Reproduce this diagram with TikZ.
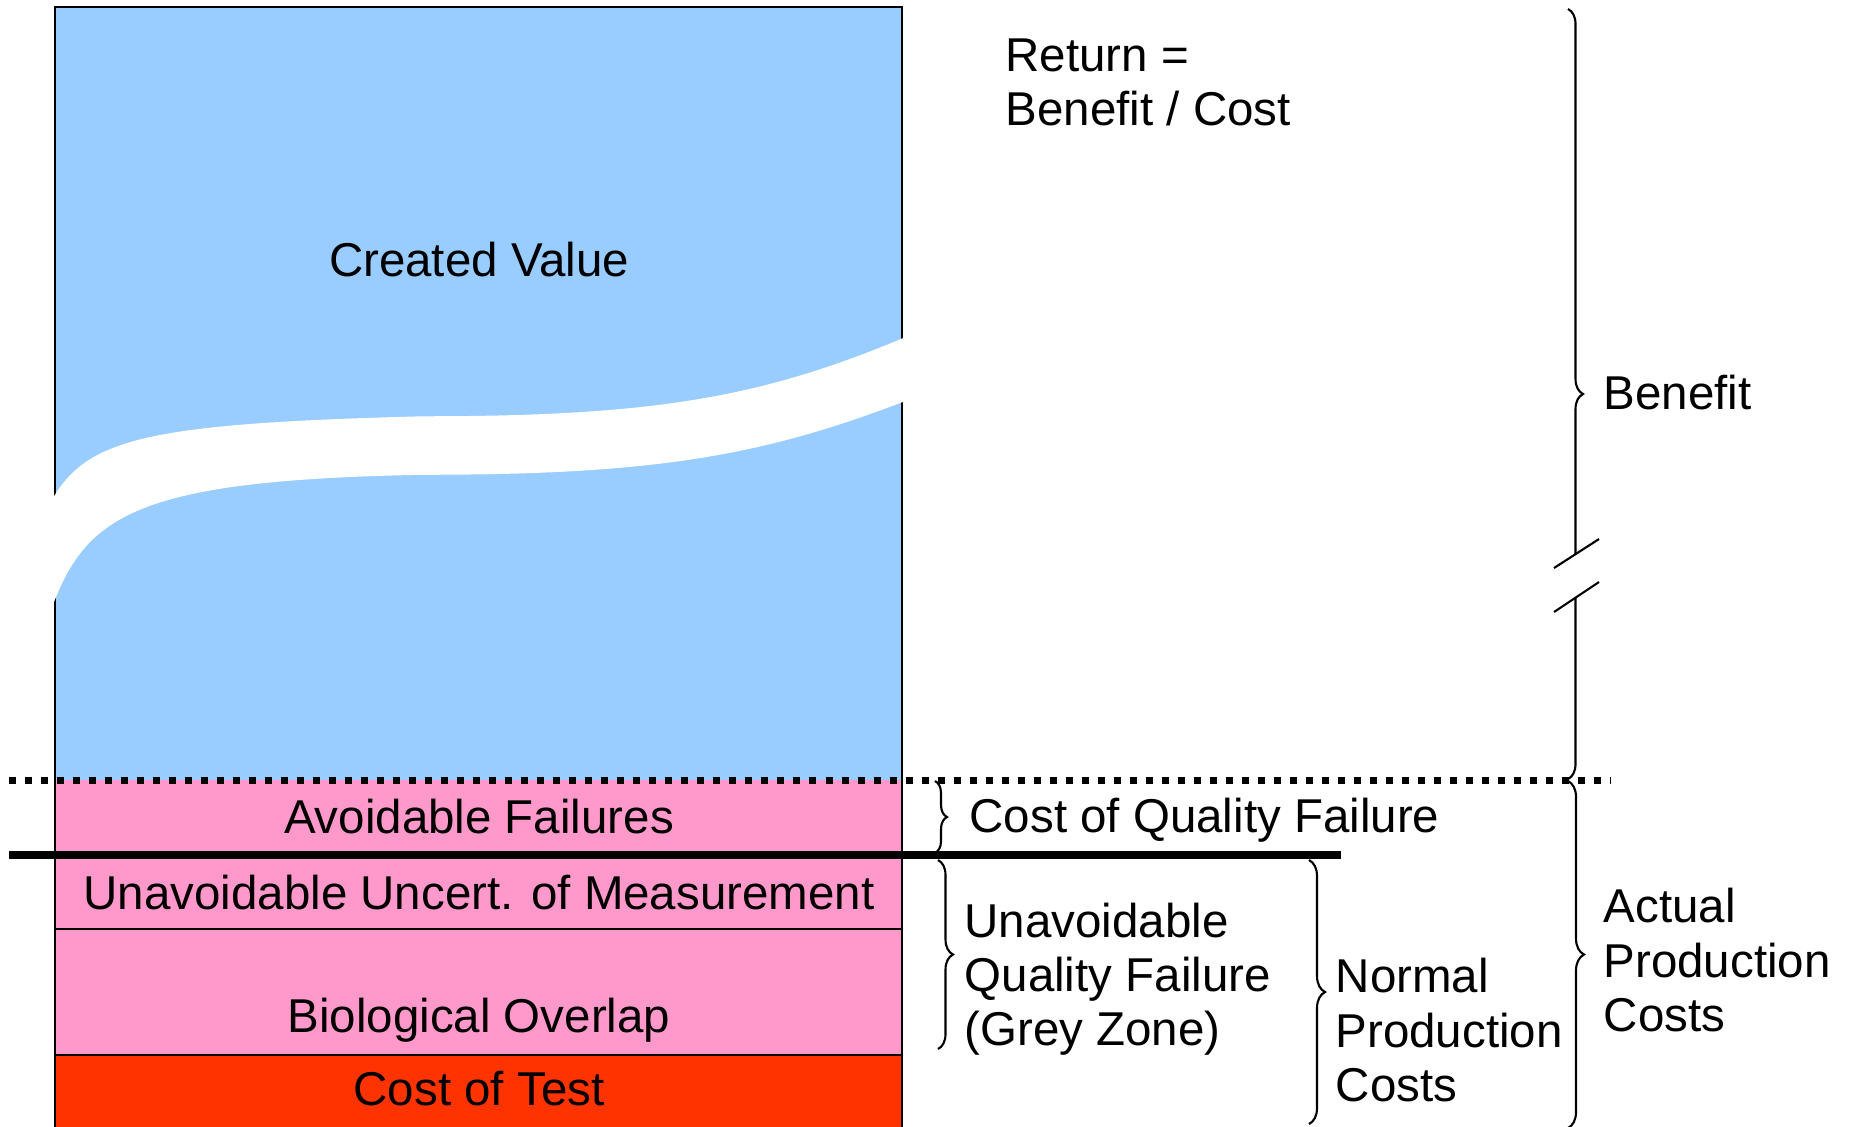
\documentclass[tikz,border=0pt]{standalone}
\usepackage{fontspec}
\setmainfont{Liberation Sans}
\usetikzlibrary{decorations.pathreplacing}
\definecolor{valueblue}{HTML}{99CCFF}
\definecolor{failpink}{HTML}{FF99CC}
\definecolor{testred}{HTML}{FF3300}

\begin{document}
\begin{tikzpicture}[x=0.01cm, y=-0.01cm,
		lbl/.style={inner sep=0pt, font=\fontsize{13.5}{15.4}\selectfont},
		side/.style={lbl, anchor=west, align=left},
		brc/.style={decorate, decoration={brace, amplitude=#1}, line width=0.6pt},
		brc/.default=0.15cm]
		\useasboundingbox (0,0) rectangle (1849,1126);
		\clip (0,0) rectangle (1849,1126);
		\fill[valueblue] (55,7) rectangle (902,780);
		\fill[failpink] (55,780) rectangle (902,1055);
		\fill[testred] (55,1055) rectangle (902,1130);
		\draw[line width=0.6pt] (55,1130) -- (55,7) -- (902,7) -- (902,1130);
		\draw[line width=0.6pt] (55,929) -- (902,929);
		\draw[line width=0.8pt] (55,1055) -- (902,1055);
		% white strip through the value column
		\filldraw[white, line width=1pt] (55,498) .. controls (90,440) and (150,425) .. (424,418)
			.. controls (650,418) and (760,400) .. (903,340) -- (903,400)
			.. controls (760,455) and (650,473) .. (424,473)
			.. controls (150,478) and (90,510) .. (55,595) -- cycle;
		\draw[line width=0.07cm, dash pattern=on 0.07cm off 0.09cm] (9,780) -- (1611,780);
		\draw[line width=0.073cm] (9,855) -- (1341,855);
		\node[lbl] (Value) at (479,260) {Created Value};
		\node[lbl] (Avoid) at (479,817) {Avoidable Failures};
		\node[lbl] (Uncert) at (479,893) {Unavoidable Uncert. of Measurement};
		\node[lbl] (BioOver) at (479,1020) {Biological Overlap};
		\node[lbl] (Test) at (479,1089) {Cost of Test};
		\node[side] (Return) at (1005,82) {Return =\\Benefit / Cost};
		\node[side] (Benefit) at (1603,393) {Benefit};
		\node[side] (QualFail) at (969,820) {Cost of Quality Failure};
		\node[side] (GreyZone) at (964,979) {Unavoidable\\Quality Failure\\(Grey Zone)};
		\node[side] (Normal) at (1335,1030) {Normal\\Production\\Costs};
		\node[side] (Actual) at (1603,960) {Actual\\Production\\Costs};
		\coordinate (BenTop) at (1568,9);
		\coordinate (BenBot) at (1568,779);
		\coordinate (ActTop) at (1568,781);
		\coordinate (ActBot) at (1568,1128);
		\coordinate (CqfTop) at (935,781);
		\coordinate (CqfBot) at (935,853);
		\coordinate (GreyTop) at (938,860);
		\coordinate (GreyBot) at (938,1049);
		\coordinate (NormTop) at (1309,860);
		\coordinate (NormBot) at (1309,1124);
		\draw[brc] (BenTop) -- (BenBot);
		\draw[brc=0.16cm] (ActTop) -- (ActBot);
		\draw[brc=0.12cm] (CqfTop) -- (CqfBot);
		\draw[brc] (GreyTop) -- (GreyBot);
		\draw[brc=0.16cm] (NormTop) -- (NormBot);
		% break marks on the benefit brace
		\coordinate (CutA1) at (1554,568);
		\coordinate (CutA2) at (1599,539);
		\coordinate (CutB1) at (1554,612);
		\coordinate (CutB2) at (1599,582);
		\fill[white] (CutA1) -- (CutA2) -- (CutB2) -- (CutB1) -- cycle;
		\draw[line width=0.6pt] (CutA1) -- (CutA2);
		\draw[line width=0.6pt] (CutB1) -- (CutB2);
	\end{tikzpicture}
\end{document}
